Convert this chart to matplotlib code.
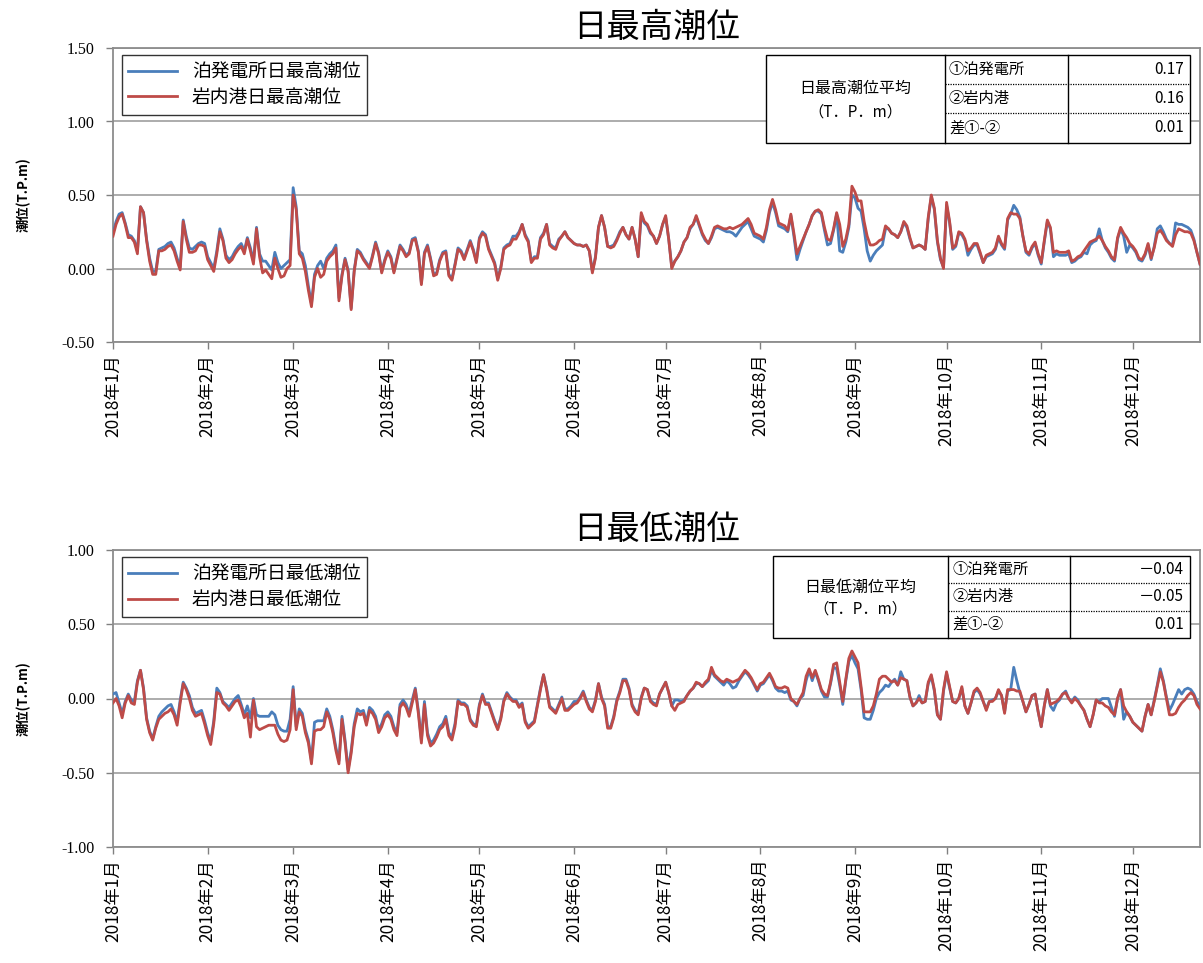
import matplotlib
matplotlib.use('Agg')
import matplotlib.pyplot as plt
import numpy as np
import pandas as pd
from matplotlib.patches import Rectangle

plt.rcParams['font.family'] = ['Noto Sans CJK JP', 'DejaVu Sans']

# ---------------- data (daily values, 2018-01-01 .. 2018-12-23) ----------------
top_red = [  # 岩内港日最高潮位
    0.22, 0.30, 0.35, 0.37, 0.30, 0.21, 0.21, 0.18, 0.10, 0.42, 0.38, 0.19, 0.05, -0.04, -0.04, 0.12, 0.12, 0.13, 0.15, 0.16, 0.12, 0.05, -0.01, 0.32, 0.20, 0.11, 0.11, 0.12, 0.16, 0.16, 0.15,
    0.06, 0.02, -0.02, 0.10, 0.25, 0.19, 0.07, 0.04, 0.06, 0.10, 0.13, 0.15, 0.10, 0.20, 0.12, 0.03, 0.27, 0.08, -0.03, -0.01, -0.04, -0.07, 0.07, 0.00, -0.06, -0.05, 0.00, 0.02,
    0.50, 0.40, 0.10, 0.07, -0.02, -0.15, -0.26, -0.06, 0.00, -0.06, -0.04, 0.05, 0.08, 0.10, 0.14, -0.22, -0.05, 0.06, -0.02, -0.28, -0.02, 0.12, 0.10, 0.06, 0.03, 0.00, 0.08, 0.17, 0.10, -0.03, 0.05,
    0.11, 0.07, -0.03, 0.06, 0.15, 0.12, 0.08, 0.10, 0.19, 0.20, 0.11, -0.11, 0.10, 0.15, 0.06, -0.05, -0.04, 0.05, 0.10, 0.11, -0.05, -0.08, 0.02, 0.13, 0.11, 0.06, 0.12, 0.18, 0.12, 0.04,
    0.20, 0.24, 0.22, 0.13, 0.08, 0.03, -0.08, 0.00, 0.13, 0.15, 0.16, 0.20, 0.20, 0.24, 0.30, 0.22, 0.18, 0.04, 0.07, 0.07, 0.20, 0.23, 0.30, 0.16, 0.14, 0.13, 0.19, 0.22, 0.25, 0.21, 0.19,
    0.17, 0.16, 0.16, 0.15, 0.16, 0.12, -0.03, 0.07, 0.28, 0.36, 0.28, 0.15, 0.14, 0.15, 0.19, 0.24, 0.28, 0.23, 0.20, 0.28, 0.20, 0.08, 0.38, 0.32, 0.30, 0.25, 0.22, 0.17, 0.22, 0.30,
    0.36, 0.20, 0.00, 0.05, 0.08, 0.12, 0.18, 0.21, 0.28, 0.30, 0.36, 0.30, 0.24, 0.20, 0.17, 0.22, 0.28, 0.29, 0.28, 0.27, 0.27, 0.28, 0.27, 0.28, 0.29, 0.30, 0.32, 0.34, 0.30, 0.24, 0.23,
    0.22, 0.20, 0.28, 0.40, 0.47, 0.40, 0.31, 0.30, 0.29, 0.26, 0.37, 0.24, 0.10, 0.15, 0.20, 0.25, 0.30, 0.36, 0.39, 0.40, 0.38, 0.28, 0.20, 0.19, 0.27, 0.38, 0.30, 0.15, 0.20, 0.30, 0.56,
    0.52, 0.46, 0.46, 0.32, 0.22, 0.16, 0.16, 0.17, 0.19, 0.20, 0.29, 0.27, 0.24, 0.23, 0.21, 0.25, 0.32, 0.29, 0.21, 0.14, 0.15, 0.16, 0.15, 0.13, 0.35, 0.50, 0.41, 0.19, 0.07, 0.00,
    0.45, 0.32, 0.14, 0.16, 0.25, 0.24, 0.20, 0.12, 0.14, 0.17, 0.17, 0.11, 0.04, 0.09, 0.10, 0.11, 0.14, 0.22, 0.17, 0.14, 0.34, 0.38, 0.37, 0.37, 0.34, 0.22, 0.12, 0.10, 0.15, 0.18, 0.10,
    0.04, 0.19, 0.33, 0.28, 0.11, 0.12, 0.11, 0.11, 0.11, 0.12, 0.05, 0.06, 0.08, 0.09, 0.12, 0.15, 0.18, 0.19, 0.20, 0.22, 0.19, 0.15, 0.12, 0.08, 0.06, 0.21, 0.28, 0.24, 0.21, 0.17,
    0.15, 0.12, 0.07, 0.06, 0.10, 0.17, 0.07, 0.14, 0.24, 0.26, 0.23, 0.19, 0.17, 0.15, 0.23, 0.27, 0.26, 0.25, 0.25, 0.24, 0.19, 0.11, 0.03,
]
top_blue = [  # 泊発電所日最高潮位
    0.24, 0.32, 0.37, 0.38, 0.31, 0.23, 0.22, 0.19, 0.12, 0.42, 0.38, 0.20, 0.07, -0.02, -0.02, 0.13, 0.14, 0.15, 0.17, 0.18, 0.14, 0.07, 0.01, 0.33, 0.22, 0.14, 0.13, 0.15, 0.17, 0.18, 0.17,
    0.08, 0.04, 0.00, 0.12, 0.27, 0.20, 0.09, 0.06, 0.08, 0.12, 0.15, 0.17, 0.12, 0.21, 0.14, 0.05, 0.28, 0.10, 0.05, 0.05, 0.02, -0.01, 0.11, 0.04, 0.00, 0.02, 0.04, 0.06,
    0.55, 0.42, 0.12, 0.10, 0.02, -0.12, -0.24, -0.04, 0.02, 0.05, 0.00, 0.07, 0.10, 0.12, 0.16, -0.20, -0.04, 0.07, -0.01, -0.27, -0.01, 0.13, 0.11, 0.07, 0.04, 0.01, 0.09, 0.18, 0.11, -0.02, 0.06,
    0.12, 0.08, -0.02, 0.07, 0.16, 0.13, 0.09, 0.11, 0.20, 0.21, 0.12, -0.10, 0.11, 0.16, 0.07, -0.04, -0.03, 0.06, 0.11, 0.12, -0.04, -0.07, 0.03, 0.14, 0.12, 0.07, 0.13, 0.19, 0.13, 0.05,
    0.21, 0.25, 0.23, 0.14, 0.09, 0.04, -0.07, 0.01, 0.14, 0.16, 0.17, 0.22, 0.22, 0.25, 0.30, 0.23, 0.19, 0.05, 0.08, 0.08, 0.21, 0.24, 0.30, 0.17, 0.15, 0.14, 0.20, 0.22, 0.25, 0.21, 0.19,
    0.17, 0.16, 0.16, 0.15, 0.16, 0.12, -0.02, 0.08, 0.28, 0.36, 0.28, 0.15, 0.15, 0.16, 0.20, 0.25, 0.28, 0.23, 0.20, 0.28, 0.20, 0.08, 0.36, 0.31, 0.29, 0.24, 0.22, 0.17, 0.22, 0.30,
    0.35, 0.20, 0.01, 0.05, 0.08, 0.12, 0.18, 0.21, 0.27, 0.30, 0.35, 0.29, 0.23, 0.19, 0.17, 0.21, 0.27, 0.28, 0.27, 0.26, 0.25, 0.25, 0.24, 0.22, 0.25, 0.28, 0.30, 0.32, 0.27, 0.22, 0.21,
    0.20, 0.18, 0.26, 0.38, 0.45, 0.38, 0.29, 0.28, 0.27, 0.25, 0.36, 0.22, 0.06, 0.13, 0.19, 0.25, 0.30, 0.36, 0.39, 0.39, 0.37, 0.26, 0.16, 0.17, 0.26, 0.37, 0.12, 0.11, 0.18, 0.28, 0.50,
    0.48, 0.41, 0.39, 0.27, 0.12, 0.05, 0.09, 0.12, 0.14, 0.16, 0.27, 0.27, 0.24, 0.23, 0.21, 0.25, 0.31, 0.28, 0.20, 0.14, 0.15, 0.16, 0.15, 0.13, 0.34, 0.49, 0.40, 0.18, 0.06, 0.01,
    0.43, 0.31, 0.13, 0.15, 0.24, 0.23, 0.19, 0.09, 0.13, 0.16, 0.16, 0.10, 0.04, 0.08, 0.09, 0.10, 0.13, 0.21, 0.16, 0.13, 0.33, 0.37, 0.43, 0.40, 0.35, 0.22, 0.11, 0.09, 0.14, 0.17, 0.09,
    0.03, 0.18, 0.32, 0.27, 0.08, 0.10, 0.09, 0.09, 0.09, 0.10, 0.04, 0.05, 0.07, 0.08, 0.11, 0.10, 0.16, 0.18, 0.19, 0.27, 0.19, 0.14, 0.11, 0.07, 0.05, 0.20, 0.27, 0.22, 0.11, 0.16,
    0.14, 0.11, 0.06, 0.05, 0.09, 0.16, 0.06, 0.15, 0.27, 0.29, 0.25, 0.20, 0.17, 0.16, 0.31, 0.30, 0.30, 0.29, 0.28, 0.26, 0.20, 0.11, 0.03,
]
bot_red = [  # 岩内港日最低潮位
    -0.03, 0.00, -0.05, -0.13, -0.03, 0.02, -0.03, -0.04, 0.11, 0.19, 0.06, -0.14, -0.23, -0.28, -0.20, -0.14, -0.12, -0.10, -0.09, -0.07, -0.11, -0.18, -0.03, 0.10, 0.06, 0.00, -0.08, -0.12, -0.11, -0.10, -0.17,
    -0.25, -0.31, -0.17, 0.04, 0.03, -0.03, -0.05, -0.08, -0.05, -0.02, -0.01, -0.06, -0.13, -0.10, -0.26, -0.01, -0.19, -0.21, -0.20, -0.19, -0.18, -0.18, -0.18, -0.24, -0.28, -0.29, -0.28, -0.21,
    0.06, -0.21, -0.09, -0.12, -0.23, -0.30, -0.44, -0.22, -0.21, -0.21, -0.19, -0.09, -0.14, -0.23, -0.35, -0.44, -0.14, -0.30, -0.50, -0.37, -0.19, -0.10, -0.11, -0.10, -0.18, -0.08, -0.10, -0.14, -0.23, -0.19, -0.13,
    -0.11, -0.14, -0.21, -0.25, -0.06, -0.03, -0.06, -0.12, -0.03, 0.06, -0.10, -0.30, -0.04, -0.25, -0.32, -0.30, -0.26, -0.21, -0.19, -0.14, -0.25, -0.28, -0.19, -0.02, -0.04, -0.04, -0.06, -0.15, -0.18, -0.19,
    -0.05, 0.02, -0.04, -0.04, -0.10, -0.16, -0.21, -0.14, -0.02, 0.03, 0.00, -0.02, -0.02, -0.06, -0.04, -0.16, -0.20, -0.18, -0.16, -0.05, 0.06, 0.16, 0.06, -0.06, -0.08, -0.10, -0.05, 0.00, -0.08, -0.08, -0.06,
    -0.04, -0.03, 0.00, 0.04, -0.02, -0.07, -0.09, -0.02, 0.10, 0.00, -0.05, -0.20, -0.20, -0.13, -0.02, 0.04, 0.12, 0.12, 0.06, -0.05, -0.09, -0.11, 0.00, 0.07, 0.06, -0.02, -0.04, -0.05, 0.03, 0.07,
    0.11, 0.04, -0.05, -0.08, -0.04, -0.03, -0.02, 0.02, 0.05, 0.07, 0.11, 0.10, 0.08, 0.11, 0.13, 0.21, 0.16, 0.14, 0.12, 0.11, 0.13, 0.12, 0.11, 0.12, 0.13, 0.16, 0.19, 0.17, 0.14, 0.10, 0.06,
    0.10, 0.11, 0.14, 0.17, 0.13, 0.08, 0.07, 0.07, 0.08, 0.07, 0.00, -0.02, -0.04, 0.00, 0.04, 0.15, 0.20, 0.14, 0.19, 0.13, 0.06, 0.03, 0.02, 0.11, 0.23, 0.24, 0.11, -0.02, 0.13, 0.27, 0.32,
    0.28, 0.24, 0.08, -0.09, -0.09, -0.09, -0.05, 0.03, 0.13, 0.15, 0.15, 0.13, 0.11, 0.12, 0.09, 0.14, 0.13, 0.12, 0.01, -0.05, -0.03, 0.00, -0.03, -0.02, 0.11, 0.16, 0.06, -0.11, -0.14, 0.06,
    0.18, 0.08, -0.02, -0.03, 0.00, 0.08, -0.05, -0.10, -0.03, 0.05, 0.07, 0.04, -0.02, -0.08, -0.02, -0.02, 0.00, 0.06, 0.02, -0.10, 0.06, 0.06, 0.06, 0.05, 0.05, -0.02, -0.09, -0.04, 0.02, 0.03, -0.09,
    -0.19, -0.05, 0.06, -0.04, -0.03, -0.02, 0.00, 0.03, 0.04, 0.00, -0.03, 0.00, -0.02, -0.05, -0.08, -0.14, -0.19, -0.11, -0.01, -0.03, -0.03, -0.05, -0.06, -0.09, -0.11, 0.00, 0.06, -0.05, -0.09, -0.12,
    -0.16, -0.18, -0.20, -0.22, -0.12, -0.04, -0.11, -0.02, 0.08, 0.18, 0.11, 0.00, -0.11, -0.11, -0.10, -0.06, -0.03, -0.01, 0.02, 0.04, 0.02, -0.04, -0.07,
]
bot_blue = [  # 泊発電所日最低潮位
    0.03, 0.04, -0.03, -0.10, -0.02, 0.03, -0.01, -0.02, 0.12, 0.19, 0.07, -0.13, -0.22, -0.27, -0.19, -0.12, -0.09, -0.07, -0.05, -0.04, -0.09, -0.16, -0.01, 0.11, 0.07, 0.02, -0.06, -0.10, -0.09, -0.08, -0.15,
    -0.23, -0.29, -0.15, 0.07, 0.04, -0.02, -0.04, -0.06, -0.03, 0.00, 0.02, -0.04, -0.11, -0.05, -0.13, 0.00, -0.11, -0.12, -0.12, -0.12, -0.12, -0.09, -0.11, -0.18, -0.21, -0.22, -0.22, -0.14,
    0.08, -0.19, -0.07, -0.10, -0.21, -0.28, -0.42, -0.16, -0.15, -0.15, -0.15, -0.07, -0.12, -0.21, -0.33, -0.42, -0.12, -0.28, -0.48, -0.35, -0.17, -0.07, -0.09, -0.08, -0.16, -0.06, -0.08, -0.12, -0.21, -0.17, -0.11,
    -0.09, -0.12, -0.19, -0.23, -0.04, -0.01, -0.04, -0.10, -0.01, 0.07, -0.08, -0.28, -0.02, -0.23, -0.30, -0.28, -0.24, -0.19, -0.17, -0.12, -0.23, -0.26, -0.17, -0.01, -0.03, -0.03, -0.05, -0.14, -0.17, -0.18,
    -0.04, 0.03, -0.03, -0.03, -0.09, -0.15, -0.20, -0.13, -0.01, 0.04, 0.01, -0.01, -0.01, -0.05, -0.03, -0.15, -0.19, -0.17, -0.15, -0.04, 0.07, 0.16, 0.07, -0.05, -0.07, -0.09, -0.04, 0.01, -0.07, -0.07, -0.05,
    -0.02, -0.02, 0.01, 0.05, -0.01, -0.06, -0.08, -0.01, 0.10, 0.01, -0.04, -0.19, -0.19, -0.12, -0.01, 0.05, 0.13, 0.13, 0.07, -0.04, -0.08, -0.10, 0.01, 0.07, 0.06, -0.01, -0.03, -0.04, 0.03, 0.07,
    0.11, 0.04, -0.05, -0.01, -0.01, -0.02, -0.01, 0.02, 0.05, 0.07, 0.10, 0.10, 0.08, 0.10, 0.12, 0.19, 0.15, 0.13, 0.11, 0.09, 0.12, 0.10, 0.07, 0.08, 0.12, 0.15, 0.18, 0.16, 0.13, 0.09, 0.05,
    0.09, 0.10, 0.13, 0.16, 0.12, 0.07, 0.05, 0.05, 0.04, 0.05, -0.01, -0.02, -0.05, 0.00, 0.02, 0.12, 0.19, 0.12, 0.18, 0.12, 0.05, 0.01, 0.01, 0.10, 0.21, 0.20, 0.09, -0.04, 0.12, 0.25, 0.29,
    0.24, 0.20, 0.06, -0.13, -0.14, -0.14, -0.08, 0.00, 0.04, 0.06, 0.09, 0.08, 0.11, 0.13, 0.09, 0.18, 0.13, 0.12, 0.01, -0.05, -0.03, 0.02, -0.03, -0.02, 0.10, 0.15, 0.05, -0.11, -0.14, 0.05,
    0.17, 0.07, -0.02, -0.03, 0.00, 0.07, -0.05, -0.10, -0.03, 0.04, 0.06, 0.03, -0.02, -0.07, -0.02, -0.01, 0.00, 0.05, 0.02, -0.09, 0.05, 0.06, 0.21, 0.12, 0.04, -0.02, -0.09, -0.04, 0.02, 0.03, -0.09,
    -0.19, -0.05, 0.06, -0.05, -0.08, -0.03, -0.01, 0.03, 0.05, 0.00, -0.02, 0.01, -0.01, -0.05, -0.08, -0.14, -0.19, -0.11, -0.01, -0.02, 0.00, 0.00, 0.00, -0.06, -0.12, 0.00, 0.06, -0.14, -0.09, -0.12,
    -0.16, -0.18, -0.20, -0.22, -0.12, -0.04, -0.11, -0.01, 0.09, 0.20, 0.12, 0.01, -0.08, -0.04, 0.01, 0.06, 0.03, 0.06, 0.07, 0.06, 0.03, -0.02, -0.05,
]

titles = ['日最高潮位', '日最低潮位']
legend_blue = ['泊発電所日最高潮位', '泊発電所日最低潮位']
legend_red = ['岩内港日最高潮位', '岩内港日最低潮位']
ylabel = '潮位(T.P.m)'
table_heads = ['日最高潮位平均', '日最低潮位平均']
table_unit = '（T．P．m）'
table_rows = ['①泊発電所', '②岩内港', '差①-②']
table_vals_top = ['0.17', '0.16', '0.01']
table_vals_bot = ['－0.04', '－0.05', '0.01']
ylims = [(-0.5, 1.5), (-1.0, 1.0)]
month_labels = [f'2018年{m}月' for m in range(1, 13)]

BLUE = '#4a7ebb'
RED = '#be4b48'

fig = plt.figure(figsize=(12.03, 9.63), dpi=100)
W, H = 1203, 963


def ax_rect(l, t, r, b):
    return [l / W, 1 - b / H, (r - l) / W, (b - t) / H]


ax_top = fig.add_axes(ax_rect(113, 48, 1200, 342))
ax_bot = fig.add_axes(ax_rect(113, 550, 1200, 847))

start = pd.Timestamp('2018-01-01')


def draw(ax, blue, red, k, tab_vals, tab_box):
    dates_b = pd.date_range(start, periods=len(blue), freq='D')
    dates_r = pd.date_range(start, periods=len(red), freq='D')
    ax.plot(dates_b, blue, color=BLUE, lw=2.0, label=legend_blue[k], zorder=3)
    ax.plot(dates_r, red, color=RED, lw=2.0, label=legend_red[k], zorder=4)
    ax.set_xlim(start, start + pd.Timedelta(days=len(red) - 1))
    lo, hi = ylims[k]
    ax.set_ylim(lo, hi)
    yt = np.arange(lo, hi + 0.01, 0.5)
    ax.set_yticks(yt)
    ax.set_yticklabels([f'{v:.2f}' for v in yt], family='Liberation Serif', fontsize=11.5)
    ax.yaxis.grid(True, color='#a6a6a6', lw=1.3)
    ax.set_axisbelow(True)
    ticks = pd.date_range('2018-01-01', periods=12, freq='MS')
    ax.set_xticks(ticks)
    ax.set_xticklabels(month_labels, rotation=90, fontsize=12.5, va='top', ha='center')
    ax.tick_params(axis='both', direction='out', length=5, color='#808080', width=1)
    ax.tick_params(axis='y', pad=8)
    for s in ax.spines.values():
        s.set_color('#8c8c8c')
        s.set_linewidth(1.3)
    ax.set_ylabel(ylabel, fontsize=9.5, fontweight='bold', labelpad=22)
    ax.set_title(titles[k], fontsize=24, pad=8)
    leg = ax.legend(loc='upper left', bbox_to_anchor=(0.008, 0.977), fontsize=13.5,
                    frameon=True, fancybox=False, edgecolor='black', handlelength=2.6,
                    borderpad=0.35, labelspacing=0.25, handletextpad=0.8, borderaxespad=0)
    leg.get_frame().set_linewidth(1.0)

    # summary table (axes fraction coordinates)
    x0, x1, x2, x3, y0, y1, y2, y3 = tab_box
    tr = ax.transAxes
    ax.add_patch(Rectangle((x0, y3), x3 - x0, y0 - y3, transform=tr, facecolor='white',
                           edgecolor='black', lw=1.0, zorder=10))
    for xv in (x1, x2):
        ax.plot([xv, xv], [y3, y0], transform=tr, color='black', lw=1.0, zorder=11)
    for yv in (y1, y2):
        ax.plot([x1, x3], [yv, yv], transform=tr, color='black', lw=0.9, ls=(0, (1, 1)), zorder=11)
    yc = (y0 + y3) / 2
    ax.text((x0 + x1) / 2, yc + (y0 - y3) * 0.12, table_heads[k], transform=tr,
            ha='center', va='center', fontsize=11.5, zorder=12)
    ax.text((x0 + x1) / 2, yc - (y0 - y3) * 0.15, table_unit, transform=tr,
            ha='center', va='center', fontsize=11, zorder=12)
    rows_y = [(y0 + y1) / 2, (y1 + y2) / 2, (y2 + y3) / 2]
    for lab, val, ry in zip(table_rows, tab_vals, rows_y):
        ax.text(x1 + 0.004, ry, lab, transform=tr, ha='left', va='center', fontsize=11, zorder=12)
        ax.text(x3 - 0.006, ry, val, transform=tr, ha='right', va='center', fontsize=11, zorder=12)


draw(ax_top, top_blue, top_red, 0, table_vals_top,
     (0.601, 0.765, 0.879, 0.991, 0.976, 0.878, 0.779, 0.677))
draw(ax_bot, bot_blue, bot_red, 1, table_vals_bot,
     (0.607, 0.768, 0.880, 0.991, 0.980, 0.889, 0.795, 0.704))

fig.savefig('out.png', dpi=100, facecolor='white')
